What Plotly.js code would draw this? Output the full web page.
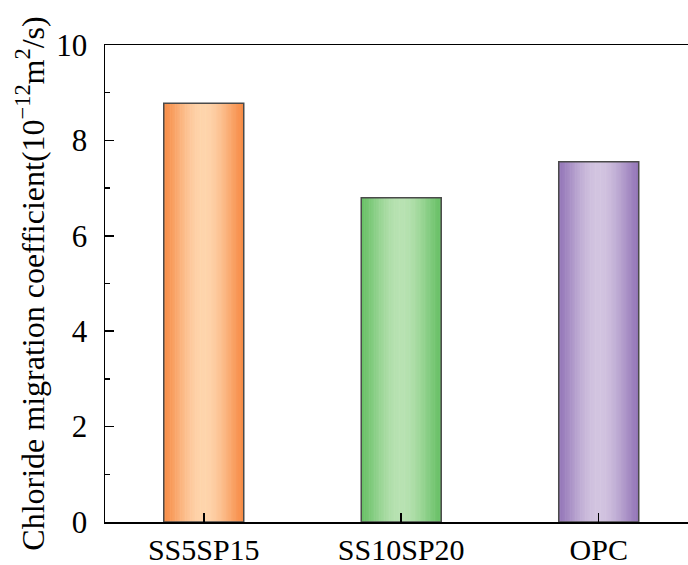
<!DOCTYPE html>
<html>
<head>
<meta charset="utf-8">
<script src="https://cdn.plot.ly/plotly-3.0.1.min.js"></script>
<style>
html, body { margin: 0; padding: 0; overflow: hidden; background: #fff; }
#chart { width: 688px; height: 565px; }
</style>
</head>
<body>
<div id="chart"></div>
<script>
// ---- data ----
var categories = ["SS5SP15", "SS10SP20", "OPC"];
var values = [8.78, 6.80, 7.55];
var yTickValues = [0, 2, 4, 6, 8, 10];
var yTickLabels = ["0", "2", "4", "6", "8", "10"];

// ---- styles ----
var edgeColors = [[247, 140, 70], [104, 192, 102], [148, 118, 184]];
var centerColors = [[254, 212, 172], [184, 226, 178], [210, 196, 224]];
var barWidth = 0.405;
var nSlices = 48;

function mix(a, b, t) {
  return 'rgb(' + a.map(function (v, i) { return Math.round(v + (b[i] - v) * t); }).join(',') + ')';
}

var traces = [];
var sw = barWidth / nSlices;
for (var s = 0; s < nSlices; s++) {
  var u = (s + 0.5) / nSlices;
  var t = Math.pow(Math.sin(Math.PI * u), 1.3);
  traces.push({
    type: 'bar',
    x: categories,
    y: values,
    width: categories.map(function () { return sw * 1.35; }),
    offset: categories.map(function () { return -barWidth / 2 + s * sw - sw * 0.175; }),
    marker: {
      color: categories.map(function (c, i) { return mix(edgeColors[i], centerColors[i], t); }),
      line: { width: 0 }
    },
    hoverinfo: 'skip',
    showlegend: false
  });
}
traces.push({
  type: 'bar',
  x: categories,
  y: values,
  width: categories.map(function () { return barWidth; }),
  offset: categories.map(function () { return -barWidth / 2; }),
  marker: { color: 'rgba(0,0,0,0)', line: { color: '#4a4a4a', width: 1.5 } },
  showlegend: false
});

var font = { family: '"Liberation Serif", "Times New Roman", serif', color: '#000' };

var layout = {
  width: 688,
  height: 565,
  margin: { l: 105, r: 0, t: 45, b: 43 },
  paper_bgcolor: '#fff',
  plot_bgcolor: '#fff',
  barmode: 'overlay',
  showlegend: false,
  font: Object.assign({ size: 30 }, font),
  xaxis: {
    type: 'category',
    range: [-0.5, 2.452],
    showline: true,
    linecolor: '#000',
    linewidth: 1.5,
    mirror: true,
    ticks: 'inside',
    ticklen: 9,
    tickwidth: 1.5,
    tickcolor: '#000',
    showgrid: false,
    zeroline: false,
    tickfont: Object.assign({ size: 30 }, font),
    ticklabelstandoff: 0
  },
  yaxis: {
    range: [0, 10],
    tickvals: yTickValues,
    ticktext: yTickLabels,
    showline: true,
    linecolor: '#000',
    linewidth: 1.5,
    ticks: 'inside',
    ticklen: 9,
    tickwidth: 1.5,
    tickcolor: '#000',
    minor: { dtick: 1, ticks: 'inside', ticklen: 5, tickwidth: 1.5, tickcolor: '#000' },
    showgrid: false,
    zeroline: false,
    tickfont: Object.assign({ size: 31 }, font),
    ticklabelstandoff: 10,
    title: {
      text: 'Chloride migration coefficient(10<sup>\u221212</sup>m<sup>2</sup>/s)',
      font: Object.assign({ size: 32 }, font),
      standoff: 2
    }
  }
};

Plotly.newPlot('chart', traces, layout, { staticPlot: true, displayModeBar: false });
</script>
</body>
</html>
